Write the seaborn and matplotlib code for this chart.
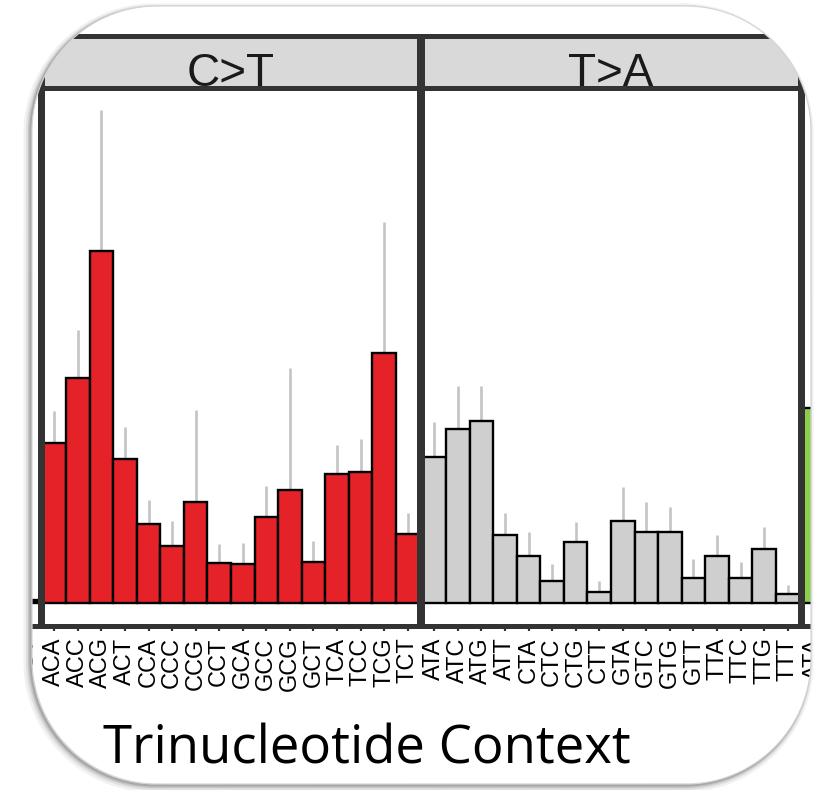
import numpy as np
import pandas as pd
import matplotlib
matplotlib.use("Agg")
import matplotlib.pyplot as plt
from matplotlib.path import Path
from matplotlib.patches import PathPatch
from matplotlib.lines import Line2D
import seaborn as sns

# ---- data (relative contribution) ----
c_contexts = ["ACA", "ACC", "ACG", "ACT", "CCA", "CCC", "CCG", "CCT",
              "GCA", "GCC", "GCG", "GCT", "TCA", "TCC", "TCG", "TCT"]
t_contexts = ["ATA", "ATC", "ATG", "ATT", "CTA", "CTC", "CTG", "CTT",
              "GTA", "GTC", "GTG", "GTT", "TTA", "TTC", "TTG", "TTT"]

ct_value = [3.20, 4.50, 7.04, 2.88, 1.58, 1.14, 2.02, 0.80,
            0.78, 1.72, 2.26, 0.82, 2.58, 2.62, 5.00, 1.38]
ct_upper = [3.84, 5.46, 9.86, 3.52, 2.06, 1.64, 3.86, 1.18,
            1.20, 2.34, 4.70, 1.24, 3.16, 3.28, 7.62, 1.80]

ta_value = [2.92, 3.48, 3.64, 1.36, 0.94, 0.44, 1.22, 0.22,
            1.64, 1.42, 1.42, 0.50, 0.94, 0.50, 1.08, 0.18]
ta_upper = [3.62, 4.34, 4.34, 1.80, 1.42, 0.78, 1.62, 0.44,
            2.32, 2.02, 1.92, 0.88, 1.36, 0.82, 1.52, 0.36]

# neighbouring facets, only the edge bars are visible in the crop
cg_context = ["TCT"]
cg_value = [0.06]
tc_context = ["ATA"]
tc_value = [3.90]

colors = {"C>G": "#000000", "C>T": "#e52228", "T>A": "#d0cfcf", "T>C": "#8ccf4a"}

W, H = 820, 790

sns.set_theme(style="white")
plt.rcParams["font.family"] = ["Liberation Sans", "DejaVu Sans"]

fig = plt.figure(figsize=(W / 100, H / 100), dpi=100)
fig.patch.set_facecolor("white")

BORDER = "#333333"


def px_box(x0, y0, x1, y1):
    return [x0 / W, 1 - y1 / H, (x1 - x0) / W, (y1 - y0) / H]


def draw_facet(x0, x1, label, order, ctx, vals, upper=None, shown=None,
               strip_text=True):
    ax = fig.add_axes(px_box(x0, 87.5, x1, 625.5))
    df = pd.DataFrame({"context": ctx, "value": vals})
    sns.barplot(data=df, x="context", y="value", order=order,
                color=colors[label], saturation=1, width=1.0,
                edgecolor="black", linewidth=1.7, ax=ax)
    if upper is not None:
        pos = [order.index(c) for c in ctx]
        ax.vlines(pos, vals, upper, color="#c4c4c4", lw=1.9, zorder=0.5)
    ax.set_xlim(-0.5, len(order) - 0.5)
    ax.set_ylim(-0.45, 10.31)
    ax.set_xlabel("")
    ax.set_ylabel("")
    ax.set_yticks([])
    ax.set_xticks(range(len(order)))
    # only the tick labels that fall inside the crop are written
    labels = [c if (shown is None or c in shown) else "" for c in order]
    ax.set_xticklabels(labels, rotation=90, fontsize=17)
    ax.tick_params(axis="x", bottom=True, length=3.6, width=1.6,
                   color=BORDER, pad=5, labelcolor="black")
    for s in ax.spines.values():
        s.set_visible(True)
        s.set_linewidth(3.6)
        s.set_color(BORDER)

    sax = fig.add_axes(px_box(x0, 35.5, x1, 87.5))
    sax.set_facecolor("#d9d9d9")
    sax.set_xticks([])
    sax.set_yticks([])
    for s in sax.spines.values():
        s.set_visible(True)
        s.set_linewidth(3.6)
        s.set_color(BORDER)
    if strip_text:
        sax.text(0.5, 0.03, label, transform=sax.transAxes, ha="center",
                 va="baseline", fontsize=33, color="#1a1a1a")
    return ax


draw_facet(-337.5, 39.5, "C>G", c_contexts, cg_context, cg_value,
           shown=cg_context, strip_text=False)
draw_facet(42.5, 419.5, "C>T", c_contexts, c_contexts, ct_value, ct_upper)
draw_facet(422.5, 799.5, "T>A", t_contexts, t_contexts, ta_value, ta_upper)
draw_facet(802.5, 1179.5, "T>C", t_contexts, tc_context, tc_value,
           shown=tc_context, strip_text=False)

title = fig.text(367 / W, 1 - 764 / H, "Trinucleotide Context",
                 ha="center", va="baseline", fontsize=38,
                 family=["Open Sans", "DejaVu Sans"], color="black")
fig.canvas.draw()
tw = title.get_window_extent().width
title.set_fontsize(38 * 527 / tw)


# ---- rounded frame around the crop ----
def rounded(x0, y0, x1, y1, r, n=40):
    pts = []
    corners = [(x1 - r, y0 + r, -90, 0), (x1 - r, y1 - r, 0, 90),
               (x0 + r, y1 - r, 90, 180), (x0 + r, y0 + r, 180, 270)]
    for cx, cy, a0, a1 in corners:
        a = np.radians(np.linspace(a0, a1, n))
        pts += list(zip(cx + r * np.cos(a), cy + r * np.sin(a)))
    return np.array([(x / W, 1 - y / H) for x, y in pts])


inner = rounded(32, 6, 811, 784, 125)
outer = np.array([(-0.1, -0.1), (-0.1, 1.1), (1.1, 1.1), (1.1, -0.1)])


def area(p):
    x, y = p[:, 0], p[:, 1]
    return 0.5 * np.sum(x * np.roll(y, -1) - np.roll(x, -1) * y)


if np.sign(area(inner)) == np.sign(area(outer)):
    inner = inner[::-1]

verts = np.vstack([outer, outer[:1], inner, inner[:1]])
codes = ([Path.MOVETO] + [Path.LINETO] * (len(outer) - 1) + [Path.CLOSEPOLY] +
         [Path.MOVETO] + [Path.LINETO] * (len(inner) - 1) + [Path.CLOSEPOLY])
mask = PathPatch(Path(verts, codes), facecolor="white", edgecolor="none",
                 transform=fig.transFigure, zorder=10)
fig.add_artist(mask)

# soft shadow, offset to the lower left
for off, lw, alpha in [(3, 8, 0.08), (2.5, 5, 0.12), (2, 3, 0.18), (1.5, 1.6, 0.25)]:
    sh = rounded(32 - off, 6 + off, 811 - off, 784 + off, 125)
    sh = np.vstack([sh, sh[:1]])
    ln = Line2D(sh[:, 0], sh[:, 1], color="#555555", lw=lw, alpha=alpha,
                transform=fig.transFigure, zorder=11)
    fig.add_artist(ln)
    ln.set_clip_path(mask)

edge = np.vstack([inner, inner[:1]])
fig.add_artist(Line2D(edge[:, 0], edge[:, 1], color="#d4d4d4", lw=0.8,
                      transform=fig.transFigure, zorder=12))

fig.savefig("out.png", dpi=100, facecolor="white")
